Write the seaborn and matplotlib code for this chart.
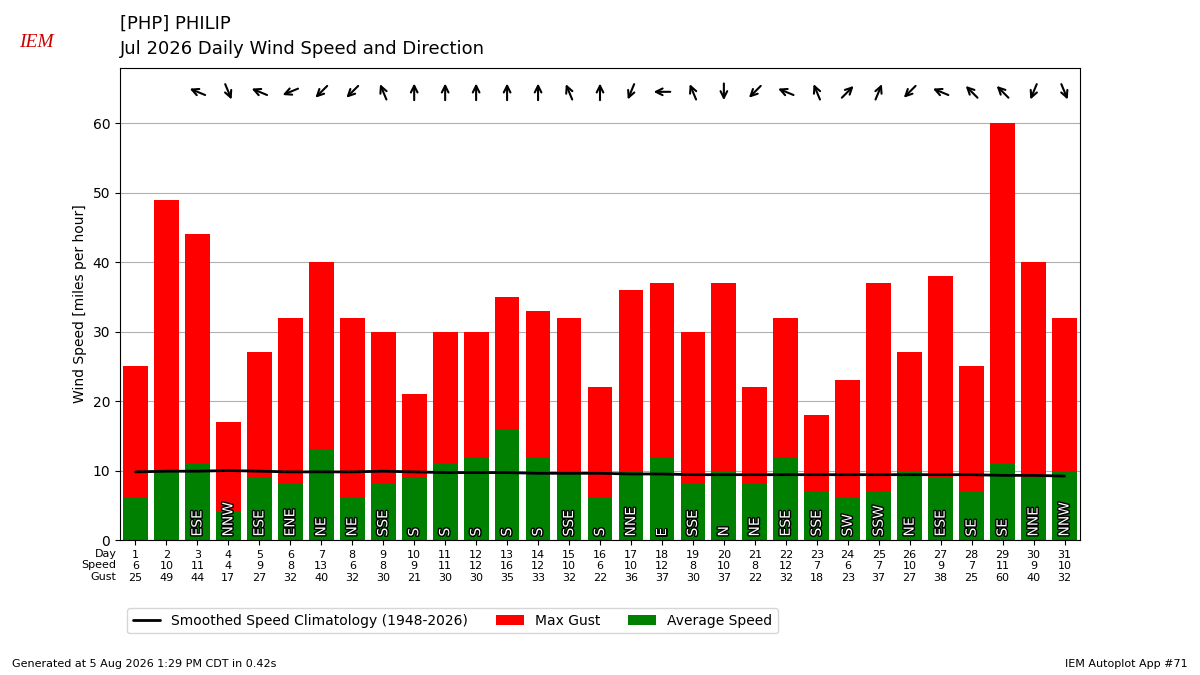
import matplotlib
matplotlib.use("Agg")
import matplotlib.pyplot as plt
import matplotlib.patheffects as pe
from matplotlib.transforms import offset_copy
import numpy as np
import pandas as pd
import seaborn as sns

days = list(range(1, 32))
speed = [6, 10, 11, 4, 9, 8, 13, 6, 8, 9, 11, 12, 16, 12, 10, 6, 10, 12, 8, 10, 8, 12, 7, 6, 7, 10, 9, 7, 11, 9, 10]
gust = [25, 49, 44, 17, 27, 32, 40, 32, 30, 21, 30, 30, 35, 33, 32, 22, 36, 37, 30, 37, 22, 32, 18, 23, 37, 27, 38, 25, 60, 40, 32]
dirs = ["", "", "ESE", "NNW", "ESE", "ENE", "NE", "NE", "SSE", "S", "S", "S", "S", "S", "SSE", "S",
        "NNE", "E", "SSE", "N", "NE", "ESE", "SSE", "SW", "SSW", "NE", "ESE", "SE", "SE", "NNE", "NNW"]
clim = [9.8, 9.9, 9.9, 10.0, 9.9, 9.8, 9.8, 9.8, 9.9, 9.8, 9.7, 9.7, 9.7, 9.6, 9.6, 9.6,
        9.5, 9.5, 9.4, 9.4, 9.4, 9.4, 9.4, 9.4, 9.4, 9.4, 9.4, 9.4, 9.3, 9.3, 9.2]

compass = ["N", "NNE", "NE", "ENE", "E", "ESE", "SE", "SSE", "S", "SSW", "SW", "WSW", "W", "WNW", "NW", "NNW"]

df = pd.DataFrame({"day": days, "speed": speed, "gust": gust})

sns.set_style("white")
plt.rcParams["font.family"] = ["DejaVu Sans"]
plt.rcParams["text.color"] = "k"
plt.rcParams["axes.labelcolor"] = "k"
plt.rcParams["xtick.color"] = "k"
plt.rcParams["ytick.color"] = "k"
fig = plt.figure(figsize=(12, 6.75), dpi=100)
ax = fig.add_axes([0.1, 0.2, 0.8, 0.7])

sns.barplot(data=df, x="day", y="gust", color="red", saturation=1, width=0.8, ax=ax, label="Max Gust",
            native_scale=True, linewidth=0)
sns.barplot(data=df, x="day", y="speed", color="green", saturation=1, width=0.8, ax=ax, label="Average Speed",
            native_scale=True, linewidth=0)
sns.lineplot(x=days, y=clim, color="k", lw=2, ax=ax, label="Smoothed Speed Climatology (1948-2026)")

for d, w in zip(days, dirs):
    if not w:
        continue
    ax.text(d, 0.5, w, rotation=90, ha="center", va="bottom", color="white", fontsize=10,
            path_effects=[pe.withStroke(linewidth=2, foreground="k")])
    th = np.deg2rad(compass.index(w) * 22.5 + 180)
    dx, dy = np.sin(th) * 6, np.cos(th) * 6
    ax.annotate("", xy=(d, 64.5), xycoords=offset_copy(ax.transData, fig=fig, x=dx, y=dy, units="points"),
                xytext=(d, 64.5), textcoords=offset_copy(ax.transData, fig=fig, x=-dx, y=-dy, units="points"),
                arrowprops=dict(arrowstyle="->", lw=1.5, color="k", shrinkA=0, shrinkB=0, mutation_scale=12),
                annotation_clip=False)

ax.set_xlim(0.5, 31.5)
ax.set_ylim(0, 68)
ax.set_yticks([0, 10, 20, 30, 40, 50, 60])
ax.grid(axis="y", color="#b0b0b0")
ax.set_axisbelow(True)
ax.set_xticks(days)
ax.set_xticklabels([f"{d}\n{s}\n{g}" for d, s, g in zip(days, speed, gust)], fontsize=8)
ax.tick_params(axis="y", labelsize=10, left=True)
ax.tick_params(axis="x", bottom=True)
ax.set_xlabel("")
ax.set_ylabel("Wind Speed [miles per hour]")
for sp in ax.spines.values():
    sp.set_visible(True)
    sp.set_color("k")
fig.text(0.1 - 0.003, 0.2 - 0.013, "Day\nSpeed\nGust", ha="right", va="top", fontsize=8, linespacing=1.2)

h, l = ax.get_legend_handles_labels()
order = [l.index("Smoothed Speed Climatology (1948-2026)"), l.index("Max Gust"), l.index("Average Speed")]
ax.legend([h[i] for i in order], [l[i] for i in order], loc="upper left", bbox_to_anchor=(0.0, -0.13),
          ncol=3, fontsize=10)

fig.text(0.1, 0.965, "[PHP] PHILIP", fontsize=13, va="center")
fig.text(0.1, 0.928, "Jul 2026 Daily Wind Speed and Direction", fontsize=13, va="center")
fig.text(0.03, 0.93, "IEM", color="#cc0000", fontsize=14, style="italic", family="Liberation Serif", ha="center")
fig.text(0.01, 0.012, "Generated at 5 Aug 2026 1:29 PM CDT in 0.42s", fontsize=8)
fig.text(0.99, 0.012, "IEM Autoplot App #71", fontsize=8, ha="right")

fig.savefig("out.png", dpi=100)
